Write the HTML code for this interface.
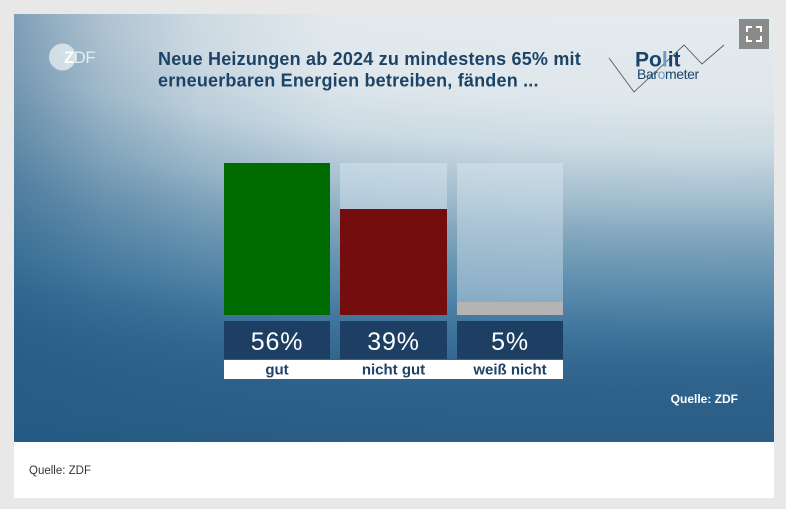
<!DOCTYPE html>
<html>
<head>
<meta charset="utf-8">
<style>
  html,body{margin:0;padding:0;}
  body{width:786px;height:509px;background:#e8e8e8;position:relative;overflow:hidden;font-family:"Liberation Sans",sans-serif;}
  .bg{position:absolute;left:14px;top:14px;width:760px;height:428px;
    background:
      linear-gradient(to right, rgba(36,90,132,0.5) 0px, rgba(36,90,132,0.26) 90px, rgba(36,90,132,0.1) 186px, rgba(36,90,132,0) 320px),
      radial-gradient(ellipse 1366px 381px at 700px -150px,
        #e5ecf0 0%, #e4ebef 39%, #e3eaee 46%, #dfe7ec 62%, #cbdae3 75%, #b0c7d5 83.7%, #a3bfcf 88.2%,
        #86a9c0 96.8%, #6b97b3 105.8%, #5587aa 114.4%, #3f749b 123.1%, #336790 132%, #2d6189 140.7%,
        #2b5e87 151.2%, #245a82 160%, #235580 170%);
  }
  .cap{position:absolute;left:14px;top:442px;width:760px;height:56px;background:#fff;}
  svg{position:absolute;left:0;top:0;}
</style>
</head>
<body>
<div class="bg"></div>
<div class="cap"></div>
<svg width="786" height="509" viewBox="0 0 786 509" xmlns="http://www.w3.org/2000/svg" font-family="Liberation Sans, sans-serif">
  <!-- ZDF logo -->
  <circle cx="62.5" cy="57" r="13.5" fill="#ffffff" fill-opacity="0.6"/>
  <text x="64" y="63" font-size="16.5" font-weight="bold" fill="#ffffff" letter-spacing="-0.3"><tspan fill-opacity="0.95">Z</tspan><tspan fill-opacity="0.75" font-weight="normal">DF</tspan></text>

  <!-- Title -->
  <text x="158" y="65" font-size="18" font-weight="bold" fill="#1b4468" letter-spacing="0.2">Neue Heizungen ab 2024 zu mindestens 65% mit</text>
  <text x="158" y="86.5" font-size="18" font-weight="bold" fill="#1b4468" letter-spacing="0.2">erneuerbaren Energien betreiben, fänden ...</text>

  <!-- Politbarometer logo -->
  <polyline points="609,58 634,92 684,45 702,64 724,45" fill="none" stroke="#4d5c68" stroke-width="0.9"/>
  <text x="635" y="66.5" font-size="21" font-weight="bold" fill="#1b4468">Po<tspan fill="#6f9cbf">l</tspan>it</text>
  <text x="637" y="79" font-size="14" fill="#1b4468" letter-spacing="-0.4">Bar<tspan fill="#6f9cbf">o</tspan>meter</text>

  <!-- Fullscreen button -->
  <rect x="739" y="19" width="30" height="30" fill="#8a8a8a"/>
  <g fill="none" stroke="#ffffff" stroke-width="2">
    <polyline points="747,32 747,27 752,27"/>
    <polyline points="756,27 761,27 761,32"/>
    <polyline points="747,36 747,41 752,41"/>
    <polyline points="756,41 761,41 761,36"/>
  </g>

  <!-- Bars -->
  <rect x="224" y="163" width="106" height="152" fill="#006c00"/>
  <rect x="340" y="163" width="107" height="152" fill="#e6f0f6" fill-opacity="0.38"/>
  <rect x="340" y="209" width="107" height="106" fill="#730d0e"/>
  <rect x="457" y="163" width="106" height="152" fill="#e6f0f6" fill-opacity="0.38"/>
  <rect x="457" y="302" width="106" height="13" fill="#b4b4b4"/>

  <!-- Value boxes -->
  <rect x="224" y="321" width="106" height="38" fill="#1d3f64"/>
  <rect x="340" y="321" width="107" height="38" fill="#1d3f64"/>
  <rect x="457" y="321" width="106" height="38" fill="#1d3f64"/>
  <text x="277" y="350" font-size="25" fill="#ffffff" text-anchor="middle" letter-spacing="0.8">56%</text>
  <text x="393.5" y="350" font-size="25" fill="#ffffff" text-anchor="middle" letter-spacing="0.8">39%</text>
  <text x="510" y="350" font-size="25" fill="#ffffff" text-anchor="middle" letter-spacing="0.8">5%</text>

  <!-- Label strip -->
  <rect x="224" y="360" width="339" height="19" fill="#ffffff"/>
  <text x="277" y="374.5" font-size="15" font-weight="bold" fill="#1e4164" text-anchor="middle">gut</text>
  <text x="393.5" y="374.5" font-size="15" font-weight="bold" fill="#1e4164" text-anchor="middle">nicht gut</text>
  <text x="510" y="374.5" font-size="15" font-weight="bold" fill="#1e4164" text-anchor="middle">weiß nicht</text>

  <!-- Source -->
  <text x="738" y="403" font-size="12" font-weight="bold" fill="#ffffff" text-anchor="end">Quelle: ZDF</text>
  <text x="29" y="474" font-size="11.5" fill="#333333">Quelle: ZDF</text>
</svg>
</body>
</html>
